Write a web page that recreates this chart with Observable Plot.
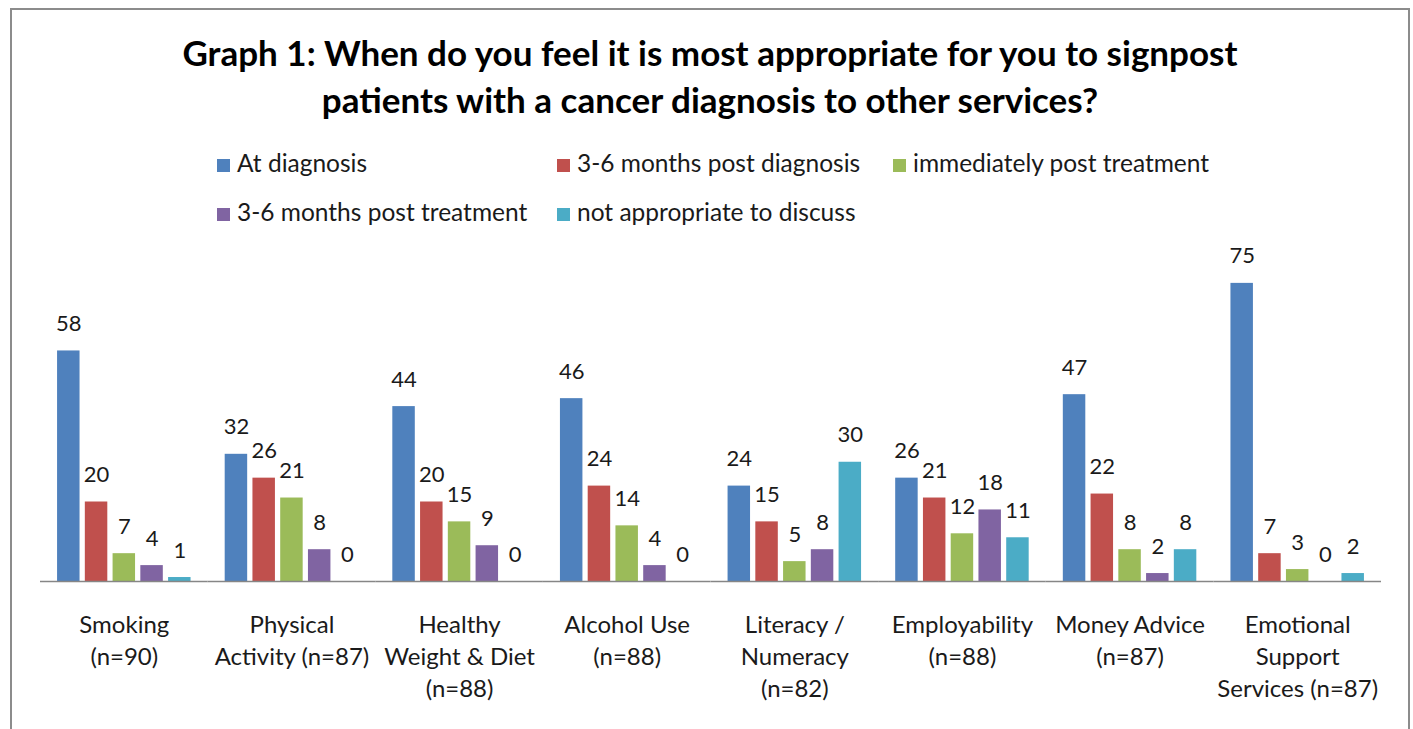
<!DOCTYPE html>
<html><head><meta charset="utf-8">
<script src="https://cdn.jsdelivr.net/npm/d3@7"></script>
<script src="https://cdn.jsdelivr.net/npm/@observablehq/plot@0.6"></script>
<style>
body{margin:0;background:#fff;width:1413px;height:729px;overflow:hidden;position:relative;font-family:Lato,"Open Sans",sans-serif;}
#frame{position:absolute;left:10px;top:8px;width:1396px;height:800px;border:2px solid #8c8c8c;}
#title{position:absolute;left:0;top:29px;width:1420px;text-align:center;font-weight:bold;font-size:35px;line-height:47px;color:#000;}
.leg{position:absolute;font-size:24.5px;color:#1a1a1a;white-space:nowrap;line-height:26px;}
.sw{display:inline-block;width:13px;height:13px;margin-right:7px;vertical-align:0px;}
#chart{position:absolute;left:0;top:240px;}
</style></head>
<body>
<div id="frame"></div>
<div id="title">Graph 1: When do you feel it is most appropriate for you to signpost<br>patients with a cancer diagnosis to other services?</div>
<div id="legend"></div>
<div id="chart"></div>
<script>
const categories = ["Smoking","Physical Activity","Healthy Weight & Diet","Alcohol Use","Literacy / Numeracy","Employability","Money Advice","Emotional Support Services"];
const categoryLabels = ["Smoking\n(n=90)","Physical\nActivity (n=87)","Healthy\nWeight & Diet\n(n=88)","Alcohol Use\n(n=88)","Literacy /\nNumeracy\n(n=82)","Employability\n(n=88)","Money Advice\n(n=87)","Emotional\nSupport\nServices (n=87)"];
const seriesNames = ["At diagnosis","3-6 months post diagnosis","immediately post treatment","3-6 months post treatment","not appropriate to discuss"];
const colors = ["#4F81BD","#C0504D","#9BBB59","#8064A2","#4BACC6"];
const atDiagnosis = [58,32,44,46,24,26,47,75];
const months36PostDiagnosis = [20,26,20,24,15,21,22,7];
const immediatelyPostTreatment = [7,21,15,14,5,12,8,3];
const months36PostTreatment = [4,8,9,4,8,18,2,0];
const notAppropriate = [1,0,0,0,30,11,8,2];
const seriesValues = [atDiagnosis, months36PostDiagnosis, immediatelyPostTreatment, months36PostTreatment, notAppropriate];

const rows = [];
categories.forEach((c,i)=>seriesNames.forEach((s,j)=>rows.push({category:c, series:s, value:seriesValues[j][i]})));

// legend
const legPos = [[217,150],[557,150],[893,150],[217,199],[557,199]];
const legend = document.getElementById("legend");
seriesNames.forEach((s,i)=>{
  const d = document.createElement("div");
  d.className = "leg";
  d.style.left = legPos[i][0]+"px";
  d.style.top = legPos[i][1]+"px";
  d.innerHTML = `<span class="sw" style="background:${colors[i]}"></span>${s}`;
  legend.appendChild(d);
});

const chart = Plot.plot({
  width:1413, height:489,
  marginLeft:40, marginRight:32, marginTop:23, marginBottom:148,
  style:{fontFamily:"Lato, 'Open Sans', sans-serif", background:"transparent"},
  fx:{domain:categories, padding:0, round:false, axis:null},
  x:{domain:seriesNames, paddingInner:0.19, paddingOuter:0.615, round:false, axis:null},
  y:{domain:[0,80], axis:null},
  color:{domain:seriesNames, range:colors},
  marks:[
    Plot.barY(rows,{fx:"category", x:"series", y:"value", fill:"series"}),
    Plot.ruleY([0],{stroke:"#868686", strokeWidth:1.5}),
    Plot.text(rows,{fx:"category", x:"series", y:"value", text:d=>String(d.value), dy:-27, fontSize:22, fill:"#1a1a1a"}),
    Plot.text(categories,{fx:d=>d, text:(d,i)=>categoryLabels[i], frameAnchor:"bottom", lineAnchor:"top", dy:29, fontSize:24, lineHeight:1.333, fill:"#1a1a1a"})
  ]
});
document.getElementById("chart").appendChild(chart);
</script>
</body></html>
